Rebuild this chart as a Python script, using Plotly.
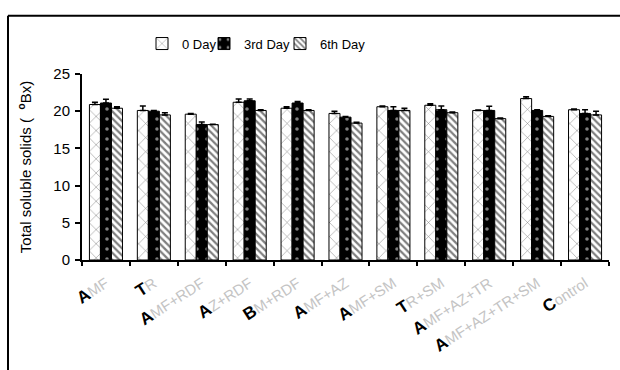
import plotly.graph_objects as go

categories = ["AMF", "TR", "AMF+RDF", "AZ+RDF", "BM+RDF", "AMF+AZ", "AMF+SM",
              "TR+SM", "AMF+AZ+TR", "AMF+AZ+TR+SM", "Control"]
day0 = [20.9, 20.1, 19.6, 21.2, 20.4, 19.7, 20.6, 20.8, 20.1, 21.7, 20.2]
day0_err = [0.3, 0.6, 0.1, 0.45, 0.2, 0.3, 0.1, 0.2, 0.05, 0.25, 0.1]
day3 = [21.1, 20.0, 18.2, 21.4, 21.1, 19.2, 20.1, 20.2, 20.1, 20.1, 19.7]
day3_err = [0.5, 0.1, 0.35, 0.25, 0.2, 0.1, 0.5, 0.5, 0.55, 0.1, 0.5]
day6 = [20.4, 19.5, 18.2, 20.1, 20.1, 18.4, 20.1, 19.8, 19.0, 19.3, 19.5]
day6_err = [0.2, 0.3, 0.05, 0.1, 0.1, 0.1, 0.3, 0.1, 0.1, 0.1, 0.5]
series_names = ["0 Day", "3rd Day", "6th Day"]


def fmt(label):
    return ('<span style="color:black;font-size:17px"><b>' + label[0] + '</b></span>' + label[1:])


tick_text = [fmt(c) for c in categories]

L, R, T, B = 82, 11, 73.5, 110
W, H = 620, 370
pw, ph = W - L - R, H - T - B


def px(x):
    return (x - L) / pw


def py(y):
    return (H - B - y) / ph


fig = go.Figure()
styles = [
    dict(shape="x", fgcolor="black", bgcolor="white", size=10, solidity=0.1),
    dict(shape=".", fgcolor="white", bgcolor="black", size=10, solidity=0.1),
    dict(shape="\\", fgcolor="black", bgcolor="white", size=5, solidity=0.45),
]
legend_ids = ["legend", "legend2", "legend3"]
legend_text_x = [180, 242, 318]
for name, vals, errs, pat, lid in zip(series_names, [day0, day3, day6],
                                      [day0_err, day3_err, day6_err], styles,
                                      legend_ids):
    fig.add_trace(go.Bar(
        x=categories, y=vals, name=name, legend=lid,
        marker=dict(color=pat["bgcolor"], line=dict(color="black", width=1),
                    pattern=dict(shape=pat["shape"], fgcolor=pat["fgcolor"],
                                 bgcolor=pat["bgcolor"], size=pat["size"],
                                 solidity=pat["solidity"])),
        error_y=dict(type="data", symmetric=False, array=errs,
                     arrayminus=[0] * len(errs), color="black",
                     thickness=1.5, width=3),
    ))

legend_common = dict(orientation="h", yanchor="middle", y=py(43),
                     xanchor="left", font=dict(size=13), itemwidth=30,
                     bgcolor="rgba(0,0,0,0)", borderwidth=0)
legends = {}
for lid, tx in zip(legend_ids, legend_text_x):
    legends[lid] = dict(legend_common, x=px(tx - 38))

fig.update_layout(
    width=W, height=H,
    margin=dict(l=L, r=R, t=T, b=B, pad=0),
    paper_bgcolor="white", plot_bgcolor="white",
    barmode="group", bargap=0.31, bargroupgap=0,
    font=dict(family="Liberation Sans, Arial", size=13, color="black"),
    showlegend=True,
    **legends,
    xaxis=dict(tickmode="array", tickvals=categories, ticktext=tick_text,
               tickangle=-33, tickson="boundaries", ticks="outside",
               ticklen=4, tickwidth=1.5, tickcolor="black",
               ticklabelstandoff=7,
               showline=True, linecolor="black", linewidth=2,
               tickfont=dict(size=15, color="#c4c4c4"), showgrid=False),
    yaxis=dict(range=[0, 25], dtick=5, ticks="outside", ticklen=5,
               tickwidth=1.5, tickcolor="black", showline=True,
               linecolor="black", linewidth=2, showgrid=False, zeroline=False,
               tickfont=dict(size=15), ticklabelstandoff=2,
               title=dict(text="Total soluble solids (  <sup><b>o</b></sup>Bx)",
                          font=dict(size=15), standoff=18)),
    shapes=[
        dict(type="line", xref="paper", yref="paper", x0=px(8), x1=px(640),
             y0=py(15), y1=py(15), line=dict(color="black", width=2)),
        dict(type="line", xref="paper", yref="paper", x0=px(8), x1=px(8),
             y0=py(15), y1=py(380), line=dict(color="black", width=2)),
    ],
)

fig.write_html("out.html")
